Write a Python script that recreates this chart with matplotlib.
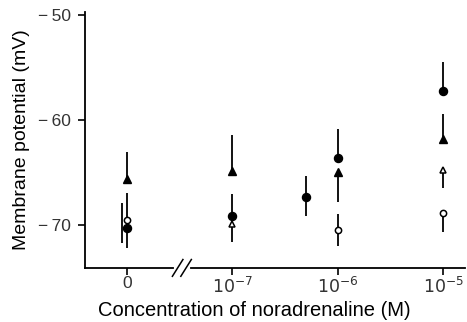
import numpy as np
import matplotlib.pyplot as plt

plt.rcParams['font.family'] = ['Liberation Sans', 'DejaVu Sans']

# concentration (M); 0 = control
fc_conc = [0, 1e-7, 5e-7, 1e-6, 1e-5]
fc_mean = [-70.3, -69.2, -67.3, -63.6, -57.2]
fc_lo = [1.9, 0, 1.9, 0, 0]
fc_hi = [0, 2.1, 2.0, 2.7, 2.7]

ft_conc = [0, 1e-7, 1e-6, 1e-5]
ft_mean = [-65.6, -64.9, -65.0, -61.8]
ft_lo = [0, 0, 2.8, 0]
ft_hi = [2.5, 3.5, 0, 2.4]

oc_conc = [0, 1e-6, 1e-5]
oc_mean = [-69.5, -70.5, -68.9]
oc_lo = [0, 1.5, 1.8]
oc_hi = [2.5, 1.5, 0]

ot_conc = [0, 1e-7, 1e-5]
ot_mean = [-69.8, -69.9, -64.8]
ot_lo = [1.9, 1.7, 1.7]
ot_hi = [1.9, 0, 0]

tick_conc = [0, 1e-7, 1e-6, 1e-5]
tick_labels = ['0', r'$10^{-7}$', r'$10^{-6}$', r'$10^{-5}$']


def pos(c):
    c = np.asarray(c, dtype=float)
    return np.where(c > 0, np.log10(np.where(c > 0, c, 1)), -8.0)


fig = plt.figure(figsize=(4.67, 3.22), dpi=100)
ax = fig.add_axes([0.182, 0.168, 0.814, 0.795])

ekw = dict(linestyle='none', ecolor='black', elinewidth=1.3, capsize=0, zorder=3)
ax.errorbar(pos(fc_conc), fc_mean, yerr=[fc_lo, fc_hi], marker='o', ms=5.8,
            mfc='black', mec='black', **ekw)
ax.errorbar(pos(ft_conc), ft_mean, yerr=[ft_lo, ft_hi], marker='^', ms=6.2,
            mfc='black', mec='black', **ekw)
ax.errorbar(pos(oc_conc), oc_mean, yerr=[oc_lo, oc_hi], marker='o', ms=4.5,
            mfc='white', mec='black', mew=1.1, **ekw)
# open triangle at control hidden behind circles; only its bar shows (offset)
x_ot = pos(ot_conc)
x_ot[0] -= 0.05
ax.errorbar(x_ot[:1], ot_mean[:1], yerr=[ot_lo[:1], ot_hi[:1]], marker='none', **ekw)
ax.errorbar(x_ot[1:], ot_mean[1:], yerr=[ot_lo[1:], ot_hi[1:]], marker='^', ms=5,
            mfc='white', mec='black', mew=1.1, **ekw)

ax.set_xlim(-8.4, -4.79)
ax.set_ylim(-74.1, -49.7)
ax.set_yticks([-70, -60, -50])
ax.set_yticklabels(['\u2212\u200970', '\u2212\u200960', '\u2212\u200950'])
ax.set_xticks(pos(tick_conc))
ax.set_xticklabels(tick_labels)

for s in ['top', 'right']:
    ax.spines[s].set_visible(False)
ax.spines['left'].set_linewidth(1.3)
ax.spines['bottom'].set_linewidth(1.3)
ax.tick_params(direction='out', length=5, width=1.2, labelsize=12.5,
               labelcolor='#333333', pad=5)
ax.tick_params(axis='x', pad=1)

# axis break marks
bx = -7.48
ax.plot([bx - 0.06, bx + 0.06], [-74.1, -74.1], color='white', lw=3,
        clip_on=False, zorder=4)
for dx in (-0.04, 0.04):
    ax.plot([bx + dx - 0.05, bx + dx + 0.05], [-74.9, -73.3], color='black',
            lw=1.1, clip_on=False, zorder=5)

ax.set_xlabel('Concentration of noradrenaline (M)', fontsize=14.5)
ax.xaxis.set_label_coords(0.445, -0.128)
ax.set_ylabel('Membrane potential (mV)', fontsize=14, labelpad=6)

fig.savefig('out.png', dpi=100)
